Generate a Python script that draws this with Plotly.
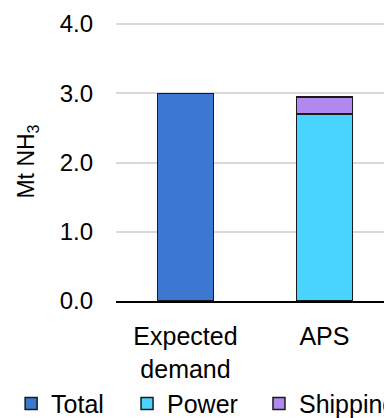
import plotly.graph_objects as go

categories = ["Expected<br>demand", "APS"]
total_values = [3.0, None]
power_values = [None, 2.7]
shipping_values = [None, 0.25]
y_ticks = [0, 1, 2, 3, 4]
y_tick_labels = ["0.0", "1.0", "2.0", "3.0", "4.0"]

FONT = "Liberation Sans, Arial, sans-serif"
FS = 24
C_TOTAL = "#3C78D2"
C_POWER = "#48D4FF"
C_SHIP = "#B088EE"

fig = go.Figure()
fig.add_trace(go.Bar(x=categories, y=total_values, name="Total",
                     marker=dict(color=C_TOTAL, line=dict(color="#1a1a1a", width=1.5)),
                     width=0.4, legend="legend"))
fig.add_trace(go.Bar(x=categories, y=power_values, name="Power",
                     marker=dict(color=C_POWER, line=dict(color="#1a1a1a", width=1.5)),
                     width=0.4, legend="legend2"))
fig.add_trace(go.Bar(x=categories, y=shipping_values, name="Shipping",
                     marker=dict(color=C_SHIP, line=dict(color="#1a1a1a", width=1.5)),
                     width=0.4, legend="legend3"))

leg_common = dict(orientation="h", yanchor="middle", y=-0.368, xanchor="left",
                  font=dict(family=FONT, size=25, color="#000000"),
                  bgcolor="rgba(0,0,0,0)", borderwidth=0)

# the page body has an 8px default margin, so the figure is sized to fit the window
fig.update_layout(
    width=384, height=410,
    margin=dict(l=108, r=0, t=14, b=117, autoexpand=False),
    paper_bgcolor="white", plot_bgcolor="white",
    barmode="stack",
    font=dict(family=FONT, size=FS, color="#000000"),
    showlegend=True,
    legend=dict(x=-0.380, **leg_common),
    legend2=dict(x=0.040, **leg_common),
    legend3=dict(x=0.518, **leg_common),
    xaxis=dict(type="category", categoryorder="array", categoryarray=categories,
               range=[-0.5, 1.486], showline=True, linecolor="#000000", linewidth=2,
               showgrid=False, ticks="", ticklabelstandoff=12,
               tickfont=dict(family=FONT, size=25, color="#000000")),
    yaxis=dict(range=[0, 4.03], tickvals=y_ticks, ticktext=y_tick_labels,
               showgrid=True, gridcolor="#D9D9D9", gridwidth=1.5,
               zeroline=False, showline=False, ticks="", ticklabelstandoff=22,
               tickfont=dict(family=FONT, size=FS, color="#000000")),
)
fig.update_yaxes(title=dict(text="Mt NH<sub>3</sub>", standoff=18,
                            font=dict(family=FONT, size=23, color="#000000")))

fig.write_html("out.html")
